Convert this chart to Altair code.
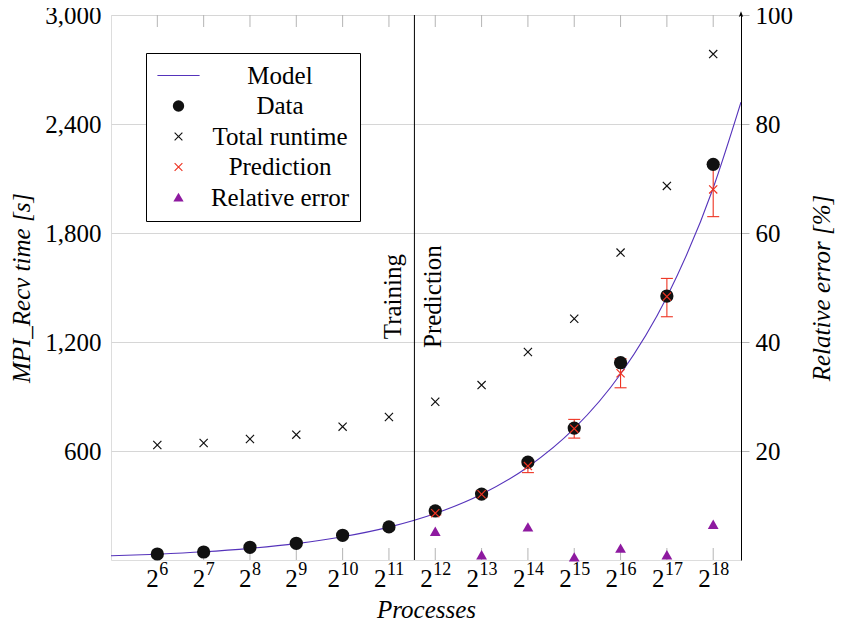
import altair as alt
import pandas as pd

# ---------------- data ----------------
exponents = [6, 7, 8, 9, 10, 11, 12, 13, 14, 15, 16, 17, 18]
tick_base = "2"
data_time = [33, 44, 70, 92, 136, 182, 270, 363, 539, 726, 1086, 1453, 2178]
total_runtime = [633, 644, 666, 690, 734, 787, 871, 963, 1145, 1328, 1692, 2059, 2785]

pred_exponents = [12, 13, 14, 15, 16, 17, 18]
prediction = [258, 362, 517, 723, 1028, 1450, 2040]
pred_low = [248, 346, 481, 671, 948, 1339, 1890]
pred_high = [276, 380, 535, 774, 1108, 1550, 2190]
relative_error = [5.2, 0.9, 6.0, 0.5, 2.1, 0.9, 6.5]

model_exponents = [5, 6, 7, 8, 9, 10, 11, 12, 13, 14, 15, 16, 17, 18, 18.6]
model_time = [23, 32, 45, 64, 90, 128, 181, 256, 362, 512, 724, 1024, 1448, 2048, 2520]

series_names = ["Model", "Data", "Total runtime", "Prediction", "Relative error"]
series_colors = ["#5533bb", "#111111", "#111111", "#ee3322", "#8e1aa0"]

split_exponent = 11.55
annotation_level = 1450
annotations = ["Training", "Prediction"]

x_domain = [5, 18.6]
y_left_domain = [0, 3000]
y_right_domain = [0, 100]
left_ticks = [600, 1200, 1800, 2400, 3000]
right_ticks = [20, 40, 60, 80, 100]

# ---------------- styling ----------------
FONT = "Liberation Serif"
FS = 25
FS_EXP = 18
PLOT_W, PLOT_H = 630, 545
GRID = "#d6d6d6"
TICK = "#b5b5b5"
MODEL_C, RED = series_colors[0], series_colors[3]

model_path = "M-3.7,-0.1L3.7,-0.1L3.7,0.1L-3.7,0.1Z"
cross_path = ("M-0.61,-0.75L0.75,0.61L0.61,0.75L-0.75,-0.61Z"
              "M0.75,-0.61L-0.61,0.75L-0.75,0.61L0.61,-0.75Z")
tri_path = "M0,-0.85L0.9,0.72L-0.9,0.72Z"
series_shapes = [model_path, "circle", cross_path, cross_path, tri_path]

color_scale = alt.Scale(domain=series_names, range=series_colors)
shape_scale = alt.Scale(domain=series_names, range=series_shapes)

legend = alt.Legend(
    title=None, orient="none", legendX=35, legendY=38,
    labelFont=FONT, labelFontSize=FS, labelColor="black",
    labelAlign="center", labelOffset=89,
    symbolSize=130, symbolStrokeWidth=0, symbolOffset=10,
    padding=10, rowPadding=4.5,
    strokeColor="black", fillColor="white",
)
color_enc = alt.Color("series:N", scale=color_scale, legend=legend)
shape_enc = alt.Shape("series:N", scale=shape_scale, legend=legend)

x_scale = alt.Scale(domain=x_domain, nice=False, zero=False)
x_axis = alt.Axis(
    values=exponents, labelExpr=f"'{tick_base}'", title="Processes",
    titleFontStyle="italic", titleFontWeight="normal", titleFont=FONT, titleFontSize=FS,
    titleColor="black", labelFont=FONT, labelFontSize=FS, labelColor="black",
    labelAlign="right",
    labelOffset={"condition": {"test": "datum.value >= 10", "value": -3}, "value": 1},
    ticks=False, domain=False, grid=False, labelPadding=6, titlePadding=6,
    labelFlush=False, labelOverlap=False)
X = alt.X("exp:Q", scale=x_scale, axis=x_axis)

y_left_scale = alt.Scale(domain=y_left_domain, nice=False, zero=False)
left_axis = alt.Axis(
    values=left_ticks, format=",d", title="MPI_Recv time [s]", titleFontStyle="italic",
    titleFontWeight="normal", titleFont=FONT, titleFontSize=FS, titleColor="black",
    labelFont=FONT, labelFontSize=FS, labelColor="black", ticks=False, domain=False,
    grid=True, gridColor=GRID, labelPadding=10, titlePadding=10, labelFlush=False)


def yl(field):
    return alt.Y(f"{field}:Q", scale=y_left_scale, axis=left_axis)


y_right_scale = alt.Scale(domain=y_right_domain, nice=False, zero=False)
right_axis = alt.Axis(
    orient="right", values=right_ticks, format="d", title="Relative error [%]",
    titleFontStyle="italic", titleFontWeight="normal", titleFont=FONT, titleFontSize=FS,
    titleColor="black", titleAngle=270, titleBaseline="top",
    labelFont=FONT, labelFontSize=FS, labelColor="black", ticks=True,
    tickSize=8, tickColor=TICK, domain=True, domainColor="black", grid=False,
    labelPadding=6, titlePadding=17, labelFlush=False)


def yr(field):
    return alt.Y(f"{field}:Q", scale=y_right_scale, axis=right_axis)


# ---------------- tables ----------------
model_df = pd.DataFrame({"exp": model_exponents, "time": model_time})
dots_df = pd.DataFrame({"exp": exponents, "time": data_time, "series": "Data"})
marks_df = pd.concat([
    pd.DataFrame({"exp": exponents, "time": total_runtime, "series": "Total runtime"}),
    pd.DataFrame({"exp": pred_exponents, "time": prediction, "series": "Prediction"}),
], ignore_index=True)
err_df = pd.DataFrame({"exp": pred_exponents, "lo": pred_low, "hi": pred_high})
rel_df = pd.DataFrame({"exp": pred_exponents, "err": relative_error, "series": "Relative error"})
split_df = pd.DataFrame({"exp": [split_exponent]})
ann_df = pd.DataFrame({"exp": [split_exponent], "time": [annotation_level]})
tick_df = pd.DataFrame({"exp": exponents, "bottom": y_left_domain[0], "top": y_left_domain[1],
                        "label": [str(e) for e in exponents]})
exp1_df = tick_df[tick_df.exp < 10]
exp2_df = tick_df[tick_df.exp >= 10]
arrow_df = pd.DataFrame({"exp": [x_domain[1]], "err": [y_right_domain[1]]})

# ---------------- left-axis layers ----------------
ticks_bottom = alt.Chart(tick_df).mark_tick(
    orient="vertical", size=24, thickness=1, color=TICK, opacity=1, clip=True
).encode(x=X, y=yl("bottom"))
ticks_top = alt.Chart(tick_df).mark_tick(
    orient="vertical", size=24, thickness=1, color=TICK, opacity=1, clip=True
).encode(x=X, y=yl("top"))

exp_text1 = alt.Chart(exp1_df).mark_text(
    align="left", baseline="middle", dx=2, dy=10, font=FONT, fontSize=FS_EXP, color="black"
).encode(x=X, y=yl("bottom"), text="label:N")
exp_text2 = alt.Chart(exp2_df).mark_text(
    align="left", baseline="middle", dx=-2, dy=10, font=FONT, fontSize=FS_EXP, color="black"
).encode(x=X, y=yl("bottom"), text="label:N")

line = alt.Chart(model_df).mark_line(
    strokeWidth=1.1, interpolate="monotone", color=MODEL_C, clip=True
).encode(x=X, y=yl("time"))

err_rule = alt.Chart(err_df).mark_rule(color=RED, strokeWidth=1.1).encode(
    x=X, y=yl("lo"), y2="hi:Q")
cap_lo = alt.Chart(err_df).mark_tick(color=RED, orient="horizontal", size=12,
                                     thickness=1.1, opacity=1).encode(x=X, y=yl("lo"))
cap_hi = alt.Chart(err_df).mark_tick(color=RED, orient="horizontal", size=12,
                                     thickness=1.1, opacity=1).encode(x=X, y=yl("hi"))

dots = alt.Chart(dots_df).mark_point(filled=True, size=175, opacity=1, strokeWidth=0).encode(
    x=X, y=yl("time"), color=color_enc, shape=shape_enc)
crosses = alt.Chart(marks_df).mark_point(filled=True, size=144, opacity=1, strokeWidth=0).encode(
    x=X, y=yl("time"), color=color_enc, shape=shape_enc)

split_rule = alt.Chart(split_df).mark_rule(color="black", strokeWidth=1).encode(x=X)

txt_train = alt.Chart(ann_df).mark_text(
    text=annotations[0], angle=270, align="center", baseline="bottom", dy=-8,
    font=FONT, fontSize=FS, color="black").encode(x=X, y=yl("time"))
txt_pred = alt.Chart(ann_df).mark_text(
    text=annotations[1], angle=270, align="center", baseline="top", dy=7,
    font=FONT, fontSize=FS, color="black").encode(x=X, y=yl("time"))

left_layer = alt.layer(ticks_bottom, ticks_top, exp_text1, exp_text2, line, split_rule,
                       err_rule, cap_lo, cap_hi, dots, crosses, txt_train, txt_pred)

# ---------------- right-axis layers ----------------
tris = alt.Chart(rel_df).mark_point(filled=True, size=144, opacity=1, strokeWidth=0).encode(
    x=X, y=yr("err"), color=color_enc, shape=shape_enc)
arrow = alt.Chart(arrow_df).mark_point(
    filled=True, shape="M0,-1.2L0.7,0.6L0,0.2L-0.7,0.6Z", size=40, color="black", opacity=1
).encode(x=X, y=yr("err"))

right_layer = alt.layer(tris, arrow)

chart = alt.layer(left_layer, right_layer).resolve_scale(y="independent").properties(
    width=PLOT_W, height=PLOT_H,
    autosize=alt.AutoSizeParams(type="none"),
    padding={"left": 103, "top": 7, "right": 94, "bottom": 61},
).configure_view(stroke="black", strokeWidth=1).configure(background="white")

chart.save("out.html", embed_options={"renderer": "svg", "actions": False})
